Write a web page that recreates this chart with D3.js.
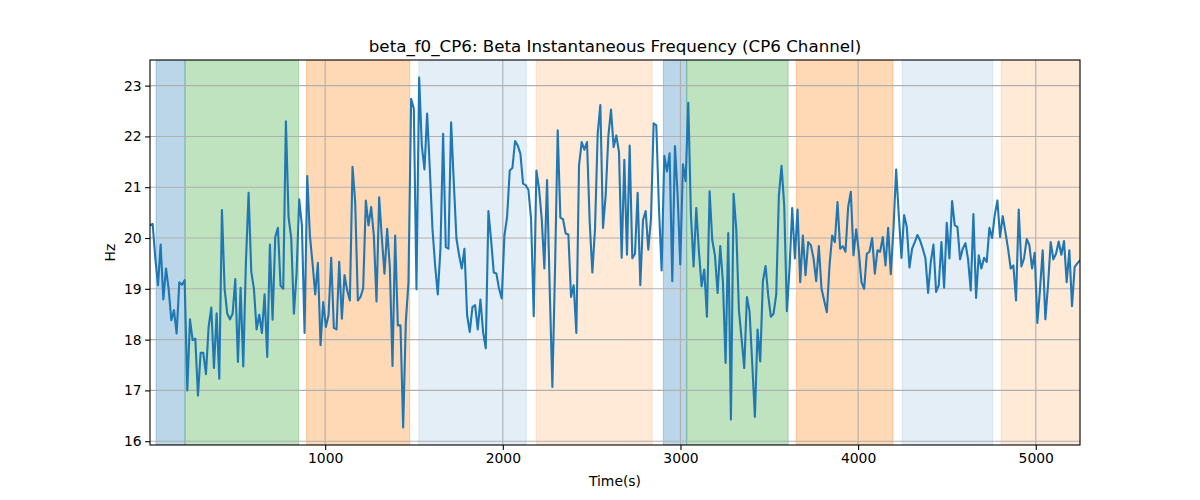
<!DOCTYPE html>
<html>
<head>
<meta charset="utf-8">
<script src="https://cdn.jsdelivr.net/npm/d3@7"></script>
<style>
  body { margin: 0; background: #fff; }
  text { font-family: "DejaVu Sans", sans-serif; }
</style>
</head>
<body>
<svg id="chart" width="1200" height="500"></svg>
<script>
// ---- data ----
const title = "beta_f0_CP6: Beta Instantaneous Frequency (CP6 Channel)";
const xLabel = "Time(s)";
const yLabel = "Hz";
const startTime = 14;      // first sample (s)
const sampleStep = 15;     // seconds between samples
const freq = [
  20.25, 20.28, 19.6, 19.07, 19.87, 18.79, 19.4, 19.0, 18.38, 18.58,
  18.12, 19.13, 19.08, 19.17, 17.0, 18.4, 17.99, 18.02, 16.9, 17.74,
  17.74, 17.32, 18.25, 18.63, 17.44, 18.52, 17.23, 20.55, 19.0, 18.51,
  18.4, 18.51, 19.19, 17.56, 19.02, 17.47, 19.53, 20.89, 19.34, 19.0,
  18.2, 18.49, 18.13, 18.89, 17.66, 19.87, 18.39, 20.02, 20.2, 19.06,
  19.0, 22.3, 20.41, 20.0, 18.51, 19.3, 20.76, 20.25, 18.13, 21.22,
  20.05, 19.5, 18.89, 19.51, 17.89, 18.74, 18.25, 18.48, 19.61, 18.23,
  18.2, 19.53, 18.41, 19.27, 18.97, 18.77, 21.4, 20.71, 18.77, 18.84,
  19.01, 20.74, 20.25, 20.61, 20.05, 18.75, 20.8,
  20.0, 19.3, 20.18, 19.43, 17.48, 20.05, 18.28, 18.28, 16.27, 18.35,
  19.13, 22.74, 22.55, 18.99, 23.16, 21.82, 21.35, 22.45, 21.37, 20.18,
  19.46, 18.89, 19.79, 22.05, 19.82, 19.79, 22.28, 21.1, 19.99, 19.66,
  19.4, 19.79, 18.48, 18.15, 18.64, 18.68, 18.2, 18.79, 18.15, 17.83,
  20.53, 19.96, 19.32, 19.3, 19.0, 18.81, 20.05, 20.41, 21.33, 21.38,
  21.91, 21.82, 21.66, 21.07, 21.04, 20.95, 20.38, 18.46, 21.33, 20.97,
  20.38, 19.4, 21.14, 19.0, 17.07, 19.4, 22.12, 20.4, 20.37, 20.09,
  20.07, 18.84, 19.07, 18.13, 21.43, 21.89, 21.74, 21.89, 20.32, 19.32,
  20.18, 22.05, 22.62, 20.2, 20.84, 22.0,
  22.53, 21.79, 22.02, 21.69, 19.61, 21.54, 19.67, 21.82, 19.6, 19.69,
  20.89, 19.07, 20.35, 20.53, 19.77, 20.38, 22.26, 22.22, 20.58, 19.36,
  21.62, 21.31, 21.67, 19.15, 21.81, 20.84, 19.48, 21.45, 21.12, 22.66,
  20.45, 19.44, 20.59, 19.73, 19.05, 19.38, 18.45, 20.92, 19.96, 19.66,
  18.92, 19.84, 19.13, 17.54, 20.1, 16.43, 20.87, 20.18, 18.58, 18.02,
  17.44, 18.84, 18.55, 17.53, 16.48, 18.2, 17.57, 19.15, 19.45, 18.87,
  18.45, 18.51, 18.89, 20.84, 21.42, 20.64, 18.56, 19.4, 20.59, 19.6,
  20.56, 19.13, 20.05, 19.27, 19.92, 19.86, 19.6, 19.15, 19.84, 19.0,
  18.77, 18.54, 19.46, 20.05, 19.92, 20.71, 19.79,
  19.84, 19.73, 20.61, 20.91, 19.66, 20.17, 19.73, 19.13, 19.0, 19.69,
  19.73, 20.0, 19.3, 19.76, 19.73, 20.02, 19.46, 20.2, 19.29, 20.18,
  21.35, 20.45, 19.61, 20.45, 20.22, 19.42, 19.79, 19.92, 20.06, 19.95,
  19.79, 19.6, 18.92, 19.53, 19.87, 18.94, 19.07, 19.92, 19.02, 20.3,
  19.6, 20.73, 20.25, 20.22, 19.58, 19.79, 19.9, 19.58, 18.97, 20.47,
  18.82, 19.66, 19.4, 19.61, 19.53, 20.2, 20.0, 20.45, 20.74, 20.02,
  20.43, 20.12, 19.79, 19.4, 19.46, 18.77, 20.56, 19.44, 19.6, 19.98,
  19.86, 19.4, 19.71, 18.33, 19.0, 19.76, 18.4, 19.07, 19.92, 19.58,
  19.69, 19.93, 19.67, 19.94, 19.13, 19.76, 18.66, 19.43, 19.5, 19.56
];
// shaded phases: [start, end, kind]
const bandStarts = [48, 211, 895, 1527, 2189, 2904, 3035, 3652, 4248, 4805];
const bandEnds   = [211, 850, 1476, 2132, 2841, 3035, 3606, 4196, 4758, 5400];
const bandKinds  = ["blue", "green", "orange", "lightblue", "lightorange",
                    "blue", "green", "orange", "lightblue", "lightorange"];
const xTicks = [1000, 2000, 3000, 4000, 5000];
const yTicks = [16, 17, 18, 19, 20, 21, 22, 23];

// ---- styles ----
const bandColor = {
  blue: "rgba(31,119,180,0.3)",
  green: "rgba(44,160,44,0.3)",
  orange: "rgba(255,127,14,0.3)",
  lightblue: "rgba(31,119,180,0.12)",
  lightorange: "rgba(255,127,14,0.16)"
};

const times = freq.map((_, i) => startTime + i * sampleStep);
const data = times.map((t, i) => ({ t, v: freq[i] }));
const bands = bandStarts.map((s, i) => ({ s, e: bandEnds[i], kind: bandKinds[i] }));

const W = 1200, H = 500;
const m = { left: 150, right: 120, top: 60, bottom: 55 };
const iw = W - m.left - m.right, ih = H - m.top - m.bottom;

const svg = d3.select("#chart");
const g = svg.append("g").attr("transform", `translate(${m.left},${m.top})`);

const x = d3.scaleLinear().domain(d3.extent(times)).range([0, iw]);
const vMin = d3.min(freq), vMax = d3.max(freq), pad = (vMax - vMin) * 0.05;
const y = d3.scaleLinear().domain([vMin - pad, vMax + pad]).range([ih, 0]);

svg.append("defs").append("clipPath").attr("id", "clip")
  .append("rect").attr("width", iw).attr("height", ih);

const plot = g.append("g").attr("clip-path", "url(#clip)");

// bands
plot.selectAll("rect.band").data(bands).enter().append("rect")
  .attr("class", "band")
  .attr("x", d => x(d.s))
  .attr("width", d => x(d.e) - x(d.s))
  .attr("y", 0).attr("height", ih)
  .attr("fill", d => bandColor[d.kind])
  .attr("stroke", d => bandColor[d.kind])
  .attr("stroke-width", 1);

// grid
plot.selectAll("line.gx").data(xTicks).enter().append("line")
  .attr("x1", d => x(d)).attr("x2", d => x(d))
  .attr("y1", 0).attr("y2", ih)
  .attr("stroke", "#b0b0b0").attr("stroke-width", 1.1);
plot.selectAll("line.gy").data(yTicks).enter().append("line")
  .attr("y1", d => y(d)).attr("y2", d => y(d))
  .attr("x1", 0).attr("x2", iw)
  .attr("stroke", "#b0b0b0").attr("stroke-width", 1.1);

// line
plot.append("path").datum(data)
  .attr("fill", "none")
  .attr("stroke", "#1f77b4")
  .attr("stroke-width", 2.1)
  .attr("stroke-linejoin", "round")
  .attr("stroke-linecap", "square")
  .attr("d", d3.line().x(d => x(d.t)).y(d => y(d.v)));

// axes
const xAxis = d3.axisBottom(x).tickValues(xTicks).tickSize(4.9).tickPadding(3.5).tickFormat(d3.format("d"));
const yAxis = d3.axisLeft(y).tickValues(yTicks).tickSize(4.9).tickPadding(3.5).tickFormat(d3.format("d"));

const gx = g.append("g").attr("transform", `translate(0,${ih})`).call(xAxis);
const gy = g.append("g").call(yAxis);
[gx, gy].forEach(a => {
  a.select(".domain").remove();
  a.selectAll(".tick line").attr("stroke", "#000").attr("stroke-width", 1.1);
  a.selectAll(".tick text").attr("font-size", "13.9px").attr("fill", "#000")
    .style("font-family", "'DejaVu Sans', sans-serif");
});

// spines
g.append("rect").attr("width", iw).attr("height", ih)
  .attr("fill", "none").attr("stroke", "#000").attr("stroke-width", 1.1);

// labels
svg.append("text").attr("x", m.left + iw / 2).attr("y", 52)
  .attr("text-anchor", "middle").attr("font-size", "16.7px").text(title);
svg.append("text").attr("x", m.left + iw / 2).attr("y", 486)
  .attr("text-anchor", "middle").attr("font-size", "13.9px").text(xLabel);
svg.append("text").attr("transform", `translate(115,${m.top + ih / 2}) rotate(-90)`)
  .attr("text-anchor", "middle").attr("font-size", "13.9px").text(yLabel);
</script>
</body>
</html>
